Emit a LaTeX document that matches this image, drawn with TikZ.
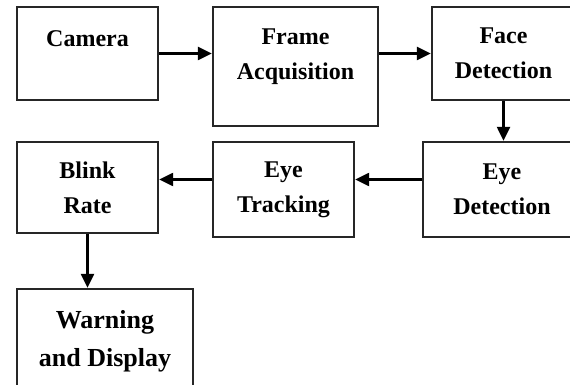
\documentclass[tikz,border=0pt]{standalone}
\usepackage{fontspec}
\setmainfont{Liberation Serif}
\usetikzlibrary{arrows.meta}

\begin{document}
\begin{tikzpicture}[x=1pt, y=-1pt,
  blk/.style={draw=black!85, line width=2.4pt, align=center, inner sep=0pt,
    font=\fontsize{24}{35}\selectfont\bfseries},
  >={Triangle[length=14pt,width=13pt]}]
\useasboundingbox (0,0) rectangle (570,385);
% top row
\node[blk, minimum width=141pt, minimum height=93pt, text depth=29pt] (cam) at (87.5,53.5) {Camera};
\node[blk, minimum width=165pt, minimum height=119pt, text depth=24pt] (frame) at (295.5,66.5) {Frame\\Acquisition};
\node[blk, minimum width=143pt, minimum height=93pt] (face) at (503.5,53.5) {Face\\Detection};
% second row
\node[blk, minimum width=158pt, minimum height=95pt] (eyedet) at (502,189.5) {Eye\\Detection};
\node[blk, minimum width=141pt, minimum height=95pt] (eyetrack) at (283.5,189.5) {Eye\\Tracking};
\node[blk, minimum width=141pt, minimum height=91pt] (blink) at (87.5,187.5) {Blink\\Rate};
\node[blk, minimum width=176pt, minimum height=104pt, font=\fontsize{26}{38}\selectfont\bfseries] (warn) at (105,341) {Warning\\and Display};

\draw[->, line width=2.4pt] (cam.east) -- (cam.east -| frame.west);
\draw[->, line width=2.4pt] (frame.east |- face.west) -- (face.west);
\draw[->, line width=2.4pt] (face.south) -- (face.south |- eyedet.north);
\draw[->, line width=2.4pt] ([yshift=10pt]eyedet.west) -- ([yshift=10pt]eyedet.west -| eyetrack.east);
\draw[->, line width=2.4pt] ([yshift=10pt]eyetrack.west) -- ([yshift=10pt]eyetrack.west -| blink.east);
\draw[->, line width=2.4pt] (blink.south) -- (blink.south |- warn.north);
\end{tikzpicture}
\end{document}
